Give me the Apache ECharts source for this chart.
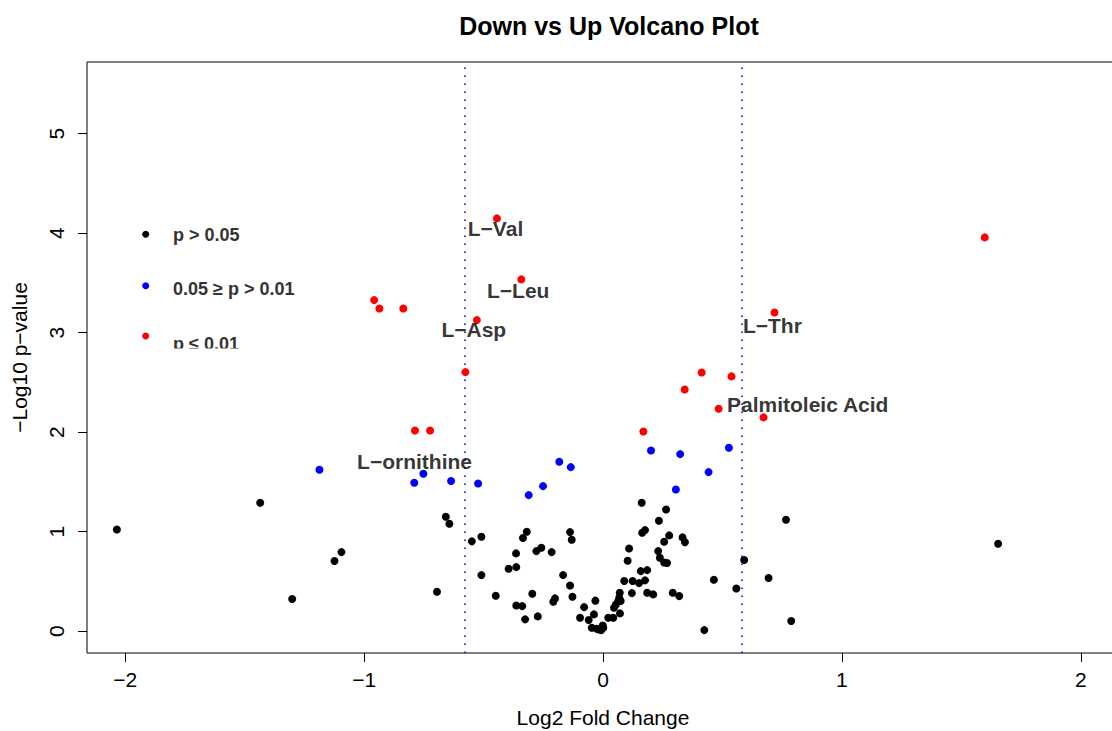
<!DOCTYPE html>
<html>
<head>
<meta charset="utf-8">
<script src="https://cdn.jsdelivr.net/npm/echarts@6/dist/echarts.min.js"></script>
<style>
  html, body { margin: 0; padding: 0; background: #fff; }
  #chart { width: 1112px; height: 731px; }
</style>
</head>
<body>
<div id="chart"></div>
<script>
// ---------------- data ----------------
const chartTitle = 'Down vs Up Volcano Plot';
const xAxisTitle = 'Log2 Fold Change';
const yAxisTitle = '\u2212Log10 p\u2212value';
const categories = ['p > 0.05', '0.05 \u2265 p > 0.01', 'p \u2264 0.01'];
const xTicks = [-2, -1, 0, 1, 2];
const yTicks = [0, 1, 2, 3, 4, 5];
const xRange = [-2.16, 2.16];
const yRange = [-0.22, 5.72];
const foldThresholds = [-0.585, 0.585];

// p > 0.05  [log2FC, -log10 p]
const notSignificant = [
  [-2.035,1.022],[-1.435,1.290],[-1.301,0.322],[-1.124,0.704],[-1.095,0.794],[-0.695,0.396],
  [-0.658,1.150],[-0.643,1.079],[-0.549,0.902],[-0.509,0.949],[-0.509,0.563],[-0.449,0.356],
  [-0.395,0.627],[-0.364,0.781],[-0.363,0.643],[-0.335,0.935],[-0.319,0.999],[-0.363,0.258],
  [-0.338,0.251],[-0.326,0.118],[-0.296,0.376],[-0.279,0.804],[-0.258,0.838],[-0.273,0.148],
  [-0.215,0.794],[-0.208,0.295],[-0.201,0.329],[-0.167,0.563],[-0.138,0.995],[-0.131,0.919],
  [-0.138,0.459],[-0.128,0.346],[-0.096,0.135],[-0.079,0.241],[-0.060,0.111],[-0.038,0.168],
  [-0.032,0.306],[-0.047,0.034],[-0.026,0.024],[-0.017,0.017],[-0.001,0.057],[-0.007,0.010],
  [0.001,0.034],[0.022,0.135],[0.043,0.135],[0.046,0.235],[0.054,0.268],[0.064,0.302],
  [0.068,0.336],[0.074,0.302],[0.071,0.178],[0.070,0.386],[0.089,0.503],[0.121,0.382],
  [0.124,0.503],[0.103,0.708],[0.109,0.831],[0.151,0.482],[0.158,0.603],[0.176,0.510],
  [0.185,0.613],[0.185,0.386],[0.210,0.369],[0.164,0.989],[0.176,1.015],[0.162,1.290],
  [0.231,0.804],[0.238,0.738],[0.256,0.690],[0.268,0.685],[0.256,0.898],[0.277,0.962],
  [0.234,1.110],[0.264,1.223],[0.292,0.386],[0.319,0.352],[0.333,0.942],[0.343,0.894],
  [0.424,0.010],[0.464,0.517],[0.558,0.429],[0.591,0.714],[0.693,0.533],[0.766,1.120],
  [0.788,0.101],[1.654,0.878]
];

// 0.05 >= p > 0.01
const moderate = [
  [-1.187,1.622],[-0.790,1.491],[-0.752,1.582],[-0.636,1.508],[-0.523,1.484],[-0.311,1.367],
  [-0.251,1.457],[-0.183,1.703],[-0.135,1.648],[0.201,1.816],[0.323,1.779],[0.527,1.843],
  [0.442,1.598],[0.305,1.424]
];

// p <= 0.01
const significant = [
  [-0.444,4.148],[-0.342,3.535],[-0.528,3.126],[-0.576,2.603],[-0.958,3.327],[-0.936,3.243],
  [-0.836,3.243],[-0.787,2.017],[-0.724,2.017],[1.598,3.957],[0.718,3.203],[0.413,2.600],
  [0.538,2.560],[0.342,2.429],[0.484,2.235],[0.672,2.148],[0.169,2.007]
];

// annotation texts and where they sit (data coordinates)
const labelNames = ['L\u2212Val', 'L\u2212Leu', 'L\u2212Asp', 'L\u2212Thr', 'Palmitoleic Acid', 'L\u2212ornithine'];
const labelPositions = [[-0.450,4.045],[-0.355,3.421],[-0.541,3.03],[0.709,3.07],[0.857,2.28],[-0.789,1.70]];

// ---------------- chart ----------------
const FONT = '"Liberation Sans", Arial, Helvetica, sans-serif';
const colors = ['#000000', '#0000ff', '#ff0000'];
const fmt = v => (v < 0 ? '\u2212' + Math.abs(v) : String(v));

const chart = echarts.init(document.getElementById('chart'), null, { renderer: 'svg' });

const legendY = [234.3, 285.7, 336];
const legendTextY = [234.5, 289, 343.5];
const graphic = [];
categories.forEach((c, i) => {
  graphic.push({ type: 'circle', shape: { cx: 145.7, cy: legendY[i], r: 3.5 }, style: { fill: colors[i] }, z: 50 });
  graphic.push({ type: 'text', x: 173, y: legendTextY[i], z: 50,
    style: { text: c, fontSize: 18, fontWeight: 'bold', fontFamily: FONT, fill: '#333', align: 'left', verticalAlign: 'middle' } });
});
graphic.push({ type: 'rect', shape: { x: 168, y: 348.5, width: 90, height: 12 }, style: { fill: '#fff' }, z: 60 });

const option = {
  animation: false,
  backgroundColor: '#fff',
  title: {
    text: chartTitle, left: 604, top: 8, textAlign: 'center',
    textStyle: { fontSize: 25, fontWeight: 'bold', color: '#000', fontFamily: FONT }
  },
  grid: {
    left: 87, top: 62, right: -7, bottom: 78,
    outerBoundsMode: 'none', containLabel: false,
    show: true, borderColor: '#000', borderWidth: 1, backgroundColor: 'transparent'
  },
  xAxis: {
    type: 'value', min: xRange[0], max: xRange[1],
    name: xAxisTitle, nameLocation: 'middle', nameGap: 54,
    nameTextStyle: { fontSize: 21, color: '#000', fontFamily: FONT },
    axisLine: { show: false, onZero: false },
    splitLine: { show: false },
    axisTick: { show: true, customValues: xTicks, length: 9, lineStyle: { color: '#000', width: 1 } },
    axisLabel: { customValues: xTicks, formatter: fmt, fontSize: 21, color: '#000', fontFamily: FONT, margin: 16 }
  },
  yAxis: {
    type: 'value', min: yRange[0], max: yRange[1],
    name: yAxisTitle, nameLocation: 'middle', nameGap: 57,
    nameTextStyle: { fontSize: 21, color: '#000', fontFamily: FONT },
    axisLine: { show: false, onZero: false },
    splitLine: { show: false },
    axisTick: { show: true, customValues: yTicks, length: 9, lineStyle: { color: '#000', width: 1 } },
    axisLabel: { customValues: yTicks, formatter: fmt, rotate: 90, fontSize: 21, color: '#000', fontFamily: FONT, margin: 20 }
  },
  graphic: graphic,
  series: [
    {
      name: categories[0], type: 'scatter', symbolSize: 8, data: notSignificant,
      itemStyle: { color: colors[0], opacity: 1 }, z: 3,
      markLine: {
        silent: true, symbol: ['none', 'none'], label: { show: false },
        lineStyle: { color: '#0000ff', width: 1.6, type: [1.6, 6.4] },
        data: foldThresholds.map(v => ({ xAxis: v }))
      }
    },
    { name: categories[1], type: 'scatter', symbolSize: 8, data: moderate, itemStyle: { color: colors[1], opacity: 1 }, z: 4 },
    { name: categories[2], type: 'scatter', symbolSize: 8, data: significant, itemStyle: { color: colors[2], opacity: 1 }, z: 5 },
    {
      name: 'labels', type: 'scatter', symbolSize: 0, z: 10, silent: true,
      itemStyle: { color: '#000' },
      data: labelNames.map((n, i) => ({ name: n, value: labelPositions[i] })),
      label: {
        show: true, position: [0, 0], align: 'center', verticalAlign: 'middle',
        formatter: p => p.name, textBorderWidth: 0,
        fontSize: 21, fontWeight: 'bold', color: '#000', fontFamily: FONT
      }
    }
  ]
};
chart.setOption(option);
</script>
</body>
</html>
